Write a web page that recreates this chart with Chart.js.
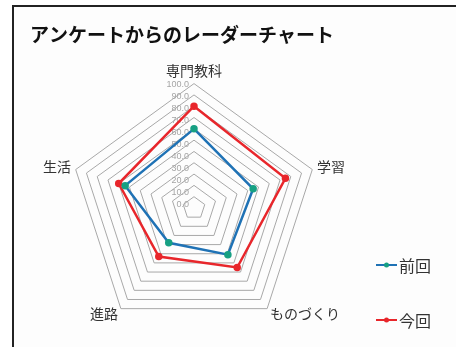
<!DOCTYPE html>
<html>
<head>
<meta charset="utf-8">
<script src="https://cdn.jsdelivr.net/npm/chart.js@4"></script>
<style>
  html, body { margin: 0; padding: 0; background: #fff; }
  #wrap { position: relative; width: 456px; height: 347px; overflow: hidden; }
  #frame { position: absolute; left: 12px; top: 5px; right: -4px; bottom: -4px; border-top: 2px solid #222; border-left: 2px solid #222; background: #fdfdfd; }
  canvas { position: absolute; left: 0; top: 0; }
</style>
</head>
<body>
<div id="wrap">
  <div id="frame"></div>
  <canvas id="radar" width="456" height="347"></canvas>
</div>
<script>
const categories = ["専門教科", "学習", "ものづくり", "進路", "生活"];
const prevValues = [60, 45, 41, 28, 54];
const currValues = [80, 75, 55, 43, 60];
const tickValues = [0, 10, 20, 30, 40, 50, 60, 70, 80, 90, 100];
const tickLabels = ["0.0", "10.0", "20.0", "30.0", "40.0", "50.0", "60.0", "70.0", "80.0", "90.0", "100.0"];

const jp = "'Noto Sans CJK JP', 'Noto Sans', sans-serif";

// tick labels sit to the left of the vertical axis, like the original
const tickText = {
  id: "tickText",
  beforeDatasetsDraw(chart) {
    const r = chart.scales.r;
    const ctx = chart.ctx;
    ctx.save();
    ctx.font = "9px 'Liberation Sans', sans-serif";
    ctx.fillStyle = "#a5a5a5";
    ctx.textAlign = "right";
    ctx.textBaseline = "middle";
    tickValues.forEach((v, i) => {
      const y = r.yCenter - r.getDistanceFromCenterForValue(v);
      ctx.fillText(tickLabels[i], r.xCenter - 5, y + 1 + (100 - v) * 0.07);
    });
    ctx.restore();
  }
};

// legend at the lower right: short line with a dot, then the name
const sideLegend = {
  id: "sideLegend",
  afterDraw(chart) {
    const ctx = chart.ctx;
    ctx.save();
    chart.data.datasets.forEach((ds, i) => {
      const y = 265 + i * 55;
      ctx.strokeStyle = ds.borderColor;
      ctx.lineWidth = 2;
      ctx.beginPath();
      ctx.moveTo(376, y);
      ctx.lineTo(397, y);
      ctx.stroke();
      ctx.fillStyle = ds.pointBackgroundColor;
      ctx.beginPath();
      ctx.arc(386.5, y, 2.5, 0, Math.PI * 2);
      ctx.fill();
      ctx.fillStyle = "#333";
      ctx.font = "16px " + jp;
      ctx.textAlign = "left";
      ctx.textBaseline = "middle";
      ctx.fillText(ds.label, 399, y + 1);
    });
    ctx.restore();
  }
};

new Chart(document.getElementById("radar"), {
  type: "radar",
  data: {
    labels: categories,
    datasets: [
      {
        label: "前回",
        data: prevValues,
        borderColor: "#1f72b5",
        backgroundColor: "transparent",
        pointBackgroundColor: "#17a083",
        pointBorderColor: "#17a083",
        borderWidth: 2.5,
        pointRadius: 2.5,
        fill: false,
      },
      {
        label: "今回",
        data: currValues,
        borderColor: "#e8262b",
        backgroundColor: "transparent",
        pointBackgroundColor: "#e8262b",
        pointBorderColor: "#e8262b",
        borderWidth: 2.5,
        pointRadius: 2.5,
        fill: false,
      },
    ],
  },
  options: {
    responsive: false,
    animation: false,
    events: [],
    layout: { padding: { left: 30, right: 98, top: 0, bottom: 2 } },
    scales: {
      r: {
        min: -10,
        max: 100,
        ticks: { stepSize: 10, display: false },
        angleLines: { display: false },
        grid: { color: "#a8a8a8", lineWidth: 1 },
        pointLabels: {
          color: "#333",
          padding: 5,
          font: (ctx) => ({
            family: jp,
            size: 14,
            lineHeight: ctx.index === 0 ? 1.2 : ctx.index === 1 || ctx.index === 4 ? 0.2 : 0.1,
          }),
        },
      },
    },
    plugins: {
      title: {
        display: true,
        text: "アンケートからのレーダーチャート",
        align: "start",
        color: "#111",
        font: { family: jp, size: 19, weight: "bold" },
        padding: { top: 23, bottom: 5 },
      },
      legend: { display: false },
      tooltip: { enabled: false },
    },
  },
  plugins: [tickText, sideLegend],
});
</script>
</body>
</html>
